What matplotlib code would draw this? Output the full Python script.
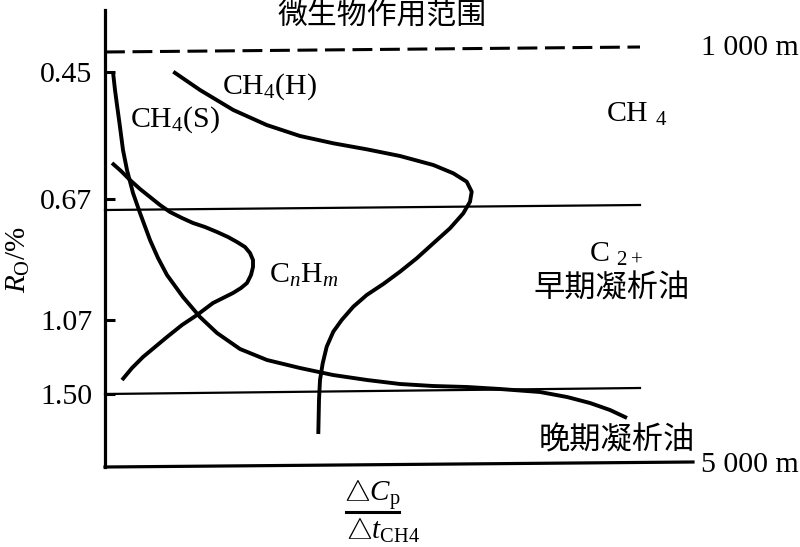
import matplotlib
matplotlib.use("Agg")
import matplotlib.pyplot as plt

plt.rcParams['font.family'] = ['Liberation Serif', 'Noto Sans CJK SC', 'DejaVu Sans']
plt.rcParams['mathtext.fontset'] = 'custom'
plt.rcParams['mathtext.rm'] = 'Liberation Serif'
plt.rcParams['mathtext.it'] = 'Liberation Serif:italic'
plt.rcParams['mathtext.bf'] = 'Liberation Serif:bold'

# ---- data (schematic coordinates; y grows downward = deeper) ----
tick_pos = [72, 199, 320, 394]
tick_labels = ['0.45', '0.67', '1.07', '1.50']

ch4_s_x = [113, 115, 117, 120, 123, 127, 133, 140, 150, 158, 167, 183, 200, 217, 240, 267,
           300, 333, 367, 400, 433, 467, 500, 540, 567, 590, 610, 627]
ch4_s_y = [72, 90, 105, 127, 150, 170, 193, 213, 240, 258, 275, 297, 317, 333, 349, 360,
           368, 375, 380, 384, 386, 387, 389, 392, 397, 403, 410, 418]

ch4_h_x = [173.3, 200, 233.3, 266.7, 300, 333.3, 366.7, 400, 433.3, 453.3, 466.7, 471.7, 470,
           463.3, 450, 433.3, 416.7, 400, 383.3, 366.7, 353.3, 341.7, 333.3, 326.7, 322.7,
           320, 319, 318.3]
ch4_h_y = [71.7, 90, 110, 125, 136, 143.3, 149.3, 156, 165, 173.3, 181.7, 191.7, 201.7,
           213.3, 228.3, 243.3, 258.3, 271.7, 284, 295, 306.7, 320, 331.7, 346.7, 363.3,
           380, 400, 434]

cnhm_x = [112, 121, 130, 140, 150, 160, 170, 182, 193, 205, 217, 228, 237, 245, 250, 253,
          253, 251, 247, 241, 233, 223, 213, 197, 182, 167, 155, 143, 132, 122]
cnhm_y = [163, 171, 180, 189, 197, 205, 212, 218, 223, 227, 232, 237, 242, 247, 253, 260,
          267, 275, 283, 288, 293, 298, 303, 315, 325, 337, 347, 357, 368, 380]

# boundary lines: (x0, y0, x1, y1)
dashed_line = (105, 52, 640, 47)
line_067 = (105, 210, 640, 205)
line_150 = (105, 394, 640, 388)
bottom_line = (105, 467, 693, 462)

fig = plt.figure(figsize=(8, 5.47), dpi=100)
ax = fig.add_axes([0, 0, 1, 1])
ax.set_xlim(0, 800)
ax.set_ylim(547, 0)

for s in ['top', 'right', 'bottom']:
    ax.spines[s].set_visible(False)
ax.spines['left'].set_position(('data', 105))
ax.spines['left'].set_bounds(10, 467)
ax.spines['left'].set_linewidth(2.3)
ax.set_xticks([])
ax.set_yticks(tick_pos)
ax.set_yticklabels(tick_labels, fontsize=21.5)
ax.tick_params(axis='y', direction='in', length=7.5, width=2.2, pad=9)

ax.set_ylabel(r'$R_{\mathrm{O}}$/%', fontsize=21)
ax.yaxis.set_label_coords(32 / 800, 1 - 260 / 547)

# boundary lines
ax.plot(dashed_line[0::2], dashed_line[1::2], color='black', lw=2.2,
        linestyle=(0, (6.5, 2.5)), solid_capstyle='butt')
ax.plot(line_067[0::2], line_067[1::2], color='black', lw=1.6)
ax.plot(line_150[0::2], line_150[1::2], color='black', lw=1.6)
ax.plot(bottom_line[0::2], bottom_line[1::2], color='black', lw=2.3)

# curves
ax.plot(ch4_s_x, ch4_s_y, color='black', lw=2.8, solid_capstyle='butt')
ax.plot(ch4_h_x, ch4_h_y, color='black', lw=2.8, solid_capstyle='butt')
ax.plot(cnhm_x, cnhm_y, color='black', lw=2.8, solid_capstyle='butt')

# texts
cjk = ['Noto Sans CJK SC', 'DejaVu Sans']
ax.text(382, 15, '微生物作用范围', family=cjk, fontsize=21.5, ha='center', va='center')
ax.text(750, 48, '1 000 m', fontsize=21.5, ha='center', va='center')
ax.text(750, 465, '5 000 m', fontsize=21.5, ha='center', va='center')
ax.text(606, 114, r'CH $_{4}$', fontsize=21.5, ha='left', va='center')
ax.text(589, 254, r'C $_{2+}$', fontsize=21.5, ha='left', va='center')
ax.text(612, 289, '早期凝析油', family=cjk, fontsize=22.5, ha='center', va='center')
ax.text(617, 440, '晚期凝析油', family=cjk, fontsize=22.5, ha='center', va='center')
ax.text(222, 87, r'CH$_{4}$(H)', fontsize=21.5, ha='left', va='center')
ax.text(130, 120, r'CH$_{4}$(S)', fontsize=21.5, ha='left', va='center')
ax.text(269, 275, r'C$_{n}$H$_{m}$', fontsize=21.5, ha='left', va='center')

# x label as a fraction
ax.text(344, 495, r'$\bigtriangleup C_{\mathrm{p}}$', fontsize=21, ha='left', va='center')
ax.plot([346, 399], [512, 512], color='black', lw=2.2)
ax.text(346, 531, r'$\bigtriangleup t_{\mathrm{CH4}}$', fontsize=21, ha='left', va='center')

fig.savefig('out.png', dpi=100)
